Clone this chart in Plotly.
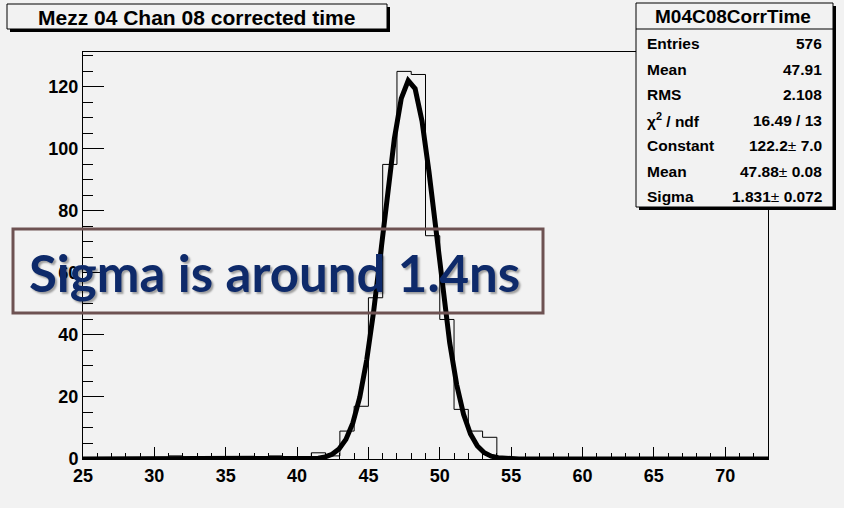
import numpy as np
import plotly.graph_objects as go

# ---------------- data ----------------
x_range = [25, 73]
bin_width = 1
# non-empty bins (lower edge) and their counts
bin_lows = [31, 38, 41, 42, 43, 44, 45, 46, 47, 48, 49, 50, 51, 52, 53]
bin_counts = [1, 1, 2, 1, 9, 17, 52, 95, 125, 124, 72, 45, 16, 9, 7]

# Gaussian fit parameters (from the stats box)
fit_const = 122.2
fit_mean = 47.88
fit_sigma = 1.831
fit_npx = 100

title_text = "Mezz 04 Chan 08 corrected time"
stats_title = "M04C08CorrTime"
stats_labels = ["Entries", "Mean", "RMS", "<b>χ<sup>2</sup> / ndf</b>", "Constant", "Mean", "Sigma"]
stats_values = ["576", "47.91", "2.108", "16.49 / 13",
                "122.2</b>± <b>7.0", "47.88</b>± <b>0.08", "1.831</b>± <b>0.072"]
note_text = "Sigma is around 1.4ns"

# ---------------- build histogram outline ----------------
edges = list(range(x_range[0], x_range[1] + 1, bin_width))
counts = {lo: c for lo, c in zip(bin_lows, bin_counts)}
hx = edges
hy = [counts.get(e, 0) for e in edges[:-1]] + [0]

fx = np.linspace(x_range[0], x_range[1], fit_npx)
fy = fit_const * np.exp(-0.5 * ((fx - fit_mean) / fit_sigma) ** 2)

# ---------------- layout geometry ----------------
W, H = 844, 508
L, R, T, B = 83, 76, 52, 49
PW, PH = W - L - R, H - T - B
BG = "#f2f2f2"


def px(x):
    return (x - L) / PW


def py(y):
    return (H - B - y) / PH


fig = go.Figure()
fig.add_trace(go.Scatter(x=hx, y=hy, mode="lines", line=dict(color="black", width=1, shape="hv"),
                         hoverinfo="skip", showlegend=False, cliponaxis=False))
fig.add_trace(go.Scatter(x=fx, y=fy, mode="lines", line=dict(color="black", width=5),
                         hoverinfo="skip", showlegend=False, cliponaxis=False))

tickfont = dict(family="Liberation Sans, Arial", size=18, color="black", weight="bold")
fig.update_xaxes(range=x_range, tick0=25, dtick=5, ticks="inside", ticklen=12, tickwidth=1,
                 tickcolor="black", showline=True, linecolor="black", linewidth=1, mirror=True,
                 showgrid=False, zeroline=False, tickfont=tickfont,
                 minor=dict(dtick=1, tick0=25, ticks="inside", ticklen=6, tickwidth=1, tickcolor="black"))
fig.update_yaxes(range=[0, 131.25], tick0=0, dtick=20, ticks="inside", ticklen=21, tickwidth=1,
                 tickcolor="black", showline=True, linecolor="black", linewidth=1, mirror=True,
                 showgrid=False, zeroline=False, tickfont=tickfont,
                 minor=dict(dtick=5, ticks="inside", ticklen=10, tickwidth=1, tickcolor="black"))

shapes = []
annotations = []


def pave(x0, y0, x1, y1, sh=3):
    shapes.append(dict(type="rect", xref="paper", yref="paper", x0=px(x0 + sh), x1=px(x1 + sh),
                       y0=py(y0 + sh), y1=py(y1 + sh), fillcolor="black", line=dict(width=0), layer="above"))
    shapes.append(dict(type="rect", xref="paper", yref="paper", x0=px(x0), x1=px(x1),
                       y0=py(y0), y1=py(y1), fillcolor=BG, line=dict(color="black", width=1), layer="above"))


# title box
pave(7, 4, 387, 29)
annotations.append(dict(text="<b>" + title_text + "</b>", xref="paper", yref="paper", x=px(196), y=py(17),
                        xanchor="center", yanchor="middle", showarrow=False,
                        font=dict(family="Liberation Sans, Arial", size=21, color="black")))

# stats box
pave(636, 3, 833, 207)
shapes.append(dict(type="line", xref="paper", yref="paper", x0=px(636), x1=px(833), y0=py(29), y1=py(29),
                   line=dict(color="black", width=1), layer="above"))
annotations.append(dict(text="<b>" + stats_title + "</b>", xref="paper", yref="paper", x=px(733), y=py(16.5),
                        xanchor="center", yanchor="middle", showarrow=False,
                        font=dict(family="Liberation Sans, Arial", size=19, color="black")))
row_y = [43.5, 69.5, 94.5, 120, 145.5, 171.5, 196.5]
for lab, val, yy in zip(stats_labels, stats_values, row_y):
    labt = lab if lab.startswith("<b>") else "<b>" + lab + "</b>"
    annotations.append(dict(text=labt, xref="paper", yref="paper", x=px(645), y=py(yy),
                            xanchor="left", yanchor="middle", showarrow=False,
                            font=dict(family="Liberation Sans, Arial", size=15.5, color="black")))
    annotations.append(dict(text="<b>" + val + "</b>", xref="paper", yref="paper", x=px(824), y=py(yy),
                            xanchor="right", yanchor="middle", showarrow=False,
                            font=dict(family="Liberation Sans, Arial", size=15.5, color="black")))

# note box
shapes.append(dict(type="rect", xref="paper", yref="paper", x0=px(13), x1=px(543), y0=py(229), y1=py(313),
                   fillcolor="rgba(0,0,0,0)", line=dict(color="#6e5252", width=3), layer="above"))
annotations.append(dict(text="<b>" + note_text + "</b>", xref="paper", yref="paper", x=px(274), y=py(272),
                        xanchor="center", yanchor="middle", showarrow=False,
                        font=dict(family="Lato", size=51, color="#0e2a6a",
                                  shadow="2px 2px 2px rgba(0,0,0,0.35)")))

fig.update_layout(width=W, height=H, autosize=False, margin=dict(l=L, r=R, t=T, b=B),
                  paper_bgcolor=BG, plot_bgcolor=BG, shapes=shapes, annotations=annotations,
                  showlegend=False)
fig.write_html("out.html")
